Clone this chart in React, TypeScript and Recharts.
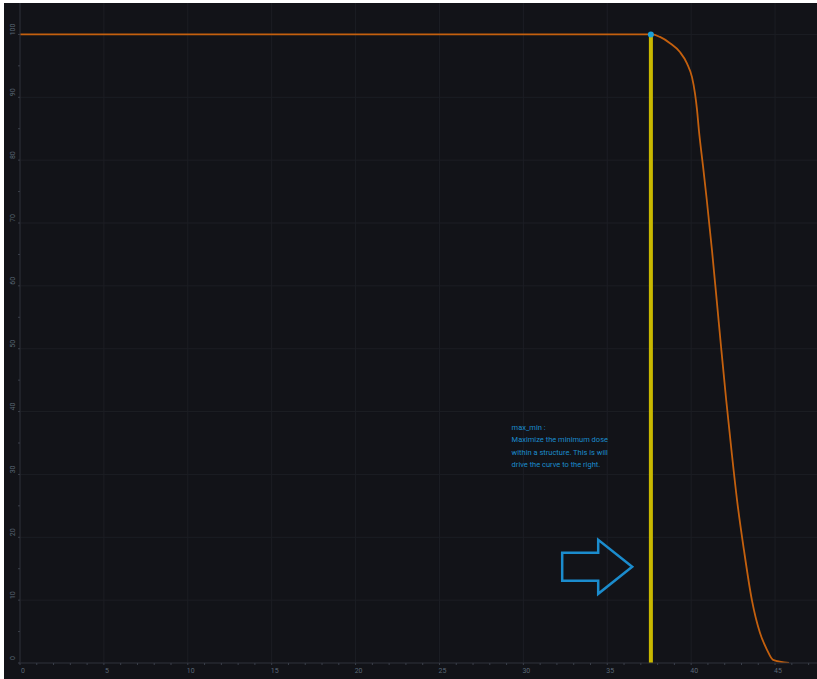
import {
  LineChart,
  Line,
  XAxis,
  YAxis,
  CartesianGrid,
  ReferenceLine,
  ReferenceDot,
} from "recharts"

// dose (x) / volume % (y)
const doseValues = [0, 37.66, 38.14, 38.74, 39.33, 39.75, 40.05, 40.23, 40.35, 40.46, 40.7, 40.93, 41.24, 41.52, 41.8, 42.09, 42.4, 42.74, 43.15, 43.62, 44.1, 44.52, 44.88, 45.83]
const volumeValues = [100, 100, 99.6, 98.6, 97.2, 95.4, 93.2, 90.6, 88.0, 84.8, 79.2, 73.7, 65.7, 57.8, 49.8, 41.8, 33.9, 25.8, 17.9, 10, 4.8, 2.1, 0.5, 0]

const xTicks = Array.from({ length: 48 }, (_, i) => i)
const yTicks = Array.from({ length: 21 }, (_, i) => i * 5)
const xGrid = [0, 5, 10, 15, 20, 25, 30, 35, 40, 45]
const yGrid = [0, 10, 20, 30, 40, 50, 60, 70, 80, 90, 100]

const markerDose = 37.6
const markerVolume = 100
const noteLines = [
  "max_min :",
  "Maximize the minimum dose",
  "within a structure. This is will",
  "drive the curve to the right.",
]

const data = doseValues.map((d, i) => ({ dose: d, volume: volumeValues[i] }))

const labelColor = "#5a6776"
const noteColor = "#1b8ccd"

function XTick(props: any) {
  const { x, y, payload } = props
  if (payload.value % 5 !== 0) return <g />
  return (
    <text x={x + 3} y={y + 6} fontSize={7} fill={labelColor} textAnchor="middle" fontFamily="Roboto, sans-serif">
      {payload.value}
    </text>
  )
}

function YTick(props: any) {
  const { x, y, payload } = props
  if (payload.value % 10 !== 0) return <g />
  const tx = x - 1
  const ty = y - 5
  return (
    <text
      x={tx}
      y={ty}
      fontSize={7}
      fill={labelColor}
      textAnchor="middle"
      transform={`rotate(-90 ${tx} ${ty})`}
      fontFamily="Roboto, sans-serif"
    >
      {payload.value}
    </text>
  )
}

function Note(props: any) {
  const { cx, cy } = props
  return (
    <g>
      {noteLines.map((t, i) => (
        <text key={i} x={cx} y={cy + 2 + i * 12.3} fontSize={7.5} fill={noteColor} fontFamily="Roboto, sans-serif">
          {t}
        </text>
      ))}
    </g>
  )
}

function Arrow(props: any) {
  const { cx, cy } = props
  const d = `M ${cx - 35} ${cy - 14} L ${cx + 1} ${cy - 14} L ${cx + 1} ${cy - 27} L ${cx + 35} ${cy} L ${cx + 1} ${cy + 27} L ${cx + 1} ${cy + 14} L ${cx - 35} ${cy + 14} Z`
  return <path d={d} fill="none" stroke={noteColor} strokeWidth={2.5} strokeLinejoin="miter" />
}

export default function App() {
  return (
    <div style={{ position: "absolute", left: 0, top: 0, width: 817, height: 679, background: "#ffffff" }}>
      <style>{"body{margin:0}"}</style>
      <div style={{ position: "absolute", left: 4, top: 3, width: 813, height: 676, background: "#121318" }}>
        <LineChart width={813} height={676} data={data} margin={{ top: 0, right: 0, bottom: 0, left: 0 }}>
          <CartesianGrid
            stroke="#1c1e24"
            horizontalValues={yGrid}
            verticalValues={xGrid}
          />
          <XAxis
            dataKey="dose"
            type="number"
            domain={[0, 47.5]}
            ticks={xTicks}
            interval={0}
            height={16}
            stroke="#2a2d35"
            tickSize={2}
            tick={<XTick />}
            tickLine={{ stroke: "#3a3f4a" }}
            allowDataOverflow
          />
          <YAxis
            dataKey="volume"
            type="number"
            domain={[0, 105]}
            ticks={yTicks}
            interval={0}
            width={16}
            stroke="#2a2d35"
            tickSize={2}
            tick={<YTick />}
            tickLine={{ stroke: "#3a3f4a" }}
            allowDataOverflow
          />
          <Line
            type="monotone"
            dataKey="volume"
            stroke="#c4600e"
            strokeWidth={1.8}
            dot={false}
            isAnimationActive={false}
          />
          <ReferenceLine
            segment={[{ x: markerDose, y: 0 }, { x: markerDose, y: markerVolume }]}
            stroke="#c9b800"
            strokeWidth={4}
          />
          <ReferenceDot x={markerDose} y={markerVolume} r={3} fill="#1aa0d8" stroke="none" />
          <ReferenceDot x={29.3} y={37.4} shape={<Note />} />
          <ReferenceDot x={34.4} y={15.3} shape={<Arrow />} />
        </LineChart>
      </div>
    </div>
  )
}
